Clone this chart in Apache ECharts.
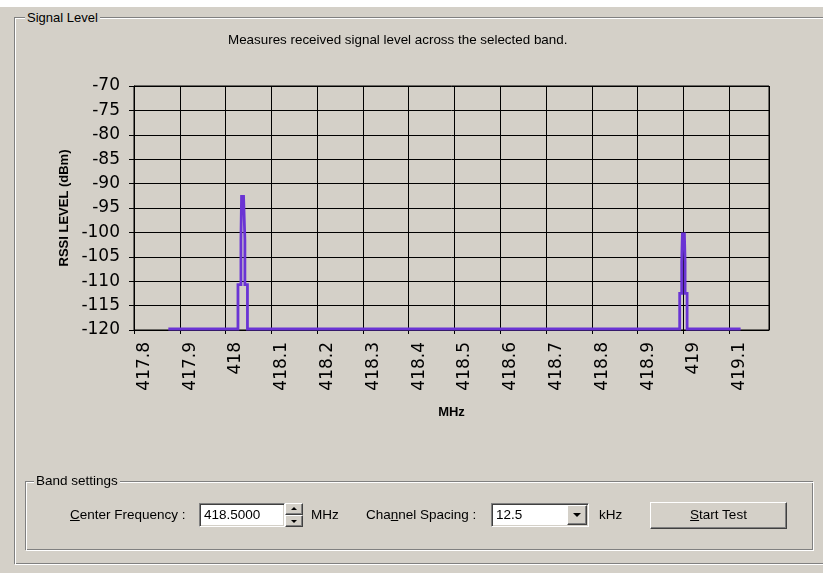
<!DOCTYPE html>
<html>
<head>
<meta charset="utf-8">
<title>Signal Level</title>
<script src="https://cdn.jsdelivr.net/npm/echarts@6/dist/echarts.min.js"></script>
<style>
  html, body { margin: 0; padding: 0; }
  body {
    width: 823px; height: 573px; position: relative; overflow: hidden;
    background: #d4d0c8; color: #000;
    font-family: 'Liberation Sans', Arial, sans-serif; font-size: 13.5px;
  }
  .strip { position: absolute; left: 0; top: 0; width: 823px; height: 7px; background: #fff; }
  .etch { position: absolute; border: 1px solid #808080; }
  .etch.hi { border-color: #fff; }
  .txt { position: absolute; line-height: 14px; white-space: nowrap; }
  .legend { background: #d4d0c8; padding: 0 2px; }
  .sunken {
    position: absolute; box-sizing: border-box; background: #fff;
    border: 1px solid; border-color: #808080 #fff #fff #808080;
    box-shadow: inset 1px 1px #404040, inset -1px -1px #d4d0c8;
    padding: 4px 0 0 4px; line-height: 14px;
  }
  .raised {
    position: absolute; box-sizing: border-box; background: #d4d0c8;
    border: 1px solid; border-color: #fff #404040 #404040 #fff;
    box-shadow: inset -1px -1px #808080;
  }
  .tri { position: absolute; width: 0; height: 0; border-left: 3px solid transparent; border-right: 3px solid transparent; }
  #chart { position: absolute; left: 0; top: 0; width: 823px; height: 573px; }
</style>
</head>
<body>
  <div class="strip"></div>

  <!-- group box: Signal Level -->
  <div class="etch" style="left:14px;top:17px;width:900px;height:545px;"></div>
  <div class="etch hi" style="left:15px;top:18px;width:900px;height:545px;"></div>
  <div class="txt legend" style="left:25px;top:11px;font-size:13px;">Signal Level</div>

  <div id="chart"></div>

  <!-- group box: Band settings -->
  <div class="etch" style="left:25px;top:481px;width:786px;height:67px;"></div>
  <div class="etch hi" style="left:26px;top:482px;width:786px;height:67px;"></div>
  <div class="txt legend" style="left:34px;top:474px;">Band settings</div>

  <div class="txt" style="left:70px;top:508px;"><u>C</u>enter Frequency :</div>
  <div class="sunken" style="left:199px;top:503px;width:86px;height:24px;">418.5000</div>
  <div class="raised" style="left:285px;top:503px;width:18px;height:12px;">
    <div class="tri" style="left:5px;top:3px;border-bottom:3px solid #000;"></div>
  </div>
  <div class="raised" style="left:285px;top:515px;width:18px;height:12px;">
    <div class="tri" style="left:5px;top:4px;border-top:3px solid #000;"></div>
  </div>
  <div class="txt" style="left:311px;top:508px;">MHz</div>

  <div class="txt" style="left:366px;top:508px;">Cha<u>n</u>nel Spacing :</div>
  <div class="sunken" style="left:491px;top:503px;width:98px;height:24px;">12.5</div>
  <div class="raised" style="left:567px;top:505px;width:20px;height:20px;">
    <div class="tri" style="left:5px;top:7px;border-left-width:4px;border-right-width:4px;border-top:4px solid #000;"></div>
  </div>
  <div class="txt" style="left:599px;top:508px;">kHz</div>

  <div class="raised" style="left:650px;top:502px;width:137px;height:27px;text-align:center;line-height:24px;"><u>S</u>tart Test</div>

<script>
// 频率 (MHz) / 信号电平 (dBm)
const freqMHz = [
  417.875,
  418.0271, 418.0271, 418.0336, 418.0336, 418.0349, 418.0393, 418.0422, 418.0422, 418.0478, 418.0478,
  418.9919, 418.9919, 418.9963, 418.9963, 418.9978, 419.0022, 419.0037, 419.0037, 419.0081, 419.0081,
  419.125,
];
const rssiDbm = [
  -119.8,
  -119.8, -110.7, -110.7, -101.6, -92.6, -92.6, -101.6, -110.7, -110.7, -119.8,
  -119.8, -112.5, -112.5, -106, -100.3, -100.3, -106, -112.5, -112.5, -119.8,
  -119.8,
];

// 坐标轴范围
const xMin = 417.8, xMax = 419.187, xStep = 0.1;
const yMin = -120, yMax = -70, yStep = 5;

const chartInstance = echarts.init(document.getElementById('chart'), null, { renderer: 'canvas' });

const seriesData = freqMHz.map((f, i) => [f, rssiDbm[i]]);

const tickFont = "'DejaVu Sans', sans-serif";

const option = {
  animation: false,
  backgroundColor: 'transparent',
  textStyle: { fontFamily: "'Liberation Sans', Arial, sans-serif" },
  title: {
    text: 'Measures received signal level across the selected band.',
    left: 228,
    top: 34,
    padding: 0,
    textStyle: { fontSize: 13.4, fontWeight: 'normal', color: '#000' },
  },
  grid: {
    left: 134,
    top: 86,
    width: 635,
    height: 244,
    show: true,
    borderColor: '#000',
    borderWidth: 1,
    backgroundColor: 'transparent',
  },
  xAxis: {
    type: 'value',
    min: xMin,
    max: xMax,
    interval: xStep,
    name: 'MHz',
    nameLocation: 'middle',
    nameGap: 76,
    nameTextStyle: { fontSize: 13, fontWeight: 'bold', color: '#000' },
    axisLine: { lineStyle: { color: '#000', width: 1 } },
    axisTick: { length: 4, lineStyle: { color: '#000' } },
    axisLabel: {
      rotate: 90,
      margin: 12,
      verticalAlign: 'top',
      padding: [2, 0, 0, 0],
      fontSize: 17,
      fontFamily: tickFont,
      color: '#000',
      showMaxLabel: false,
    },
    splitLine: { show: true, lineStyle: { color: '#000', width: 1 } },
  },
  yAxis: {
    type: 'value',
    min: yMin,
    max: yMax,
    interval: yStep,
    name: 'RSSI LEVEL (dBm)',
    nameLocation: 'middle',
    nameGap: 62,
    nameTextStyle: { fontSize: 13, fontWeight: 'bold', color: '#000' },
    axisLine: { show: true, lineStyle: { color: '#000', width: 1 } },
    axisTick: { show: true, length: 5, lineStyle: { color: '#000' } },
    axisLabel: { margin: 14, fontSize: 17, fontFamily: tickFont, color: '#000' },
    splitLine: { show: true, lineStyle: { color: '#000', width: 1 } },
  },
  series: [
    {
      type: 'line',
      data: seriesData,
      showSymbol: false,
      symbol: 'none',
      lineStyle: { color: '#6a34d4', width: 2.8, join: 'miter' },
      z: 3,
    },
  ],
};

chartInstance.setOption(option);
</script>
</body>
</html>
